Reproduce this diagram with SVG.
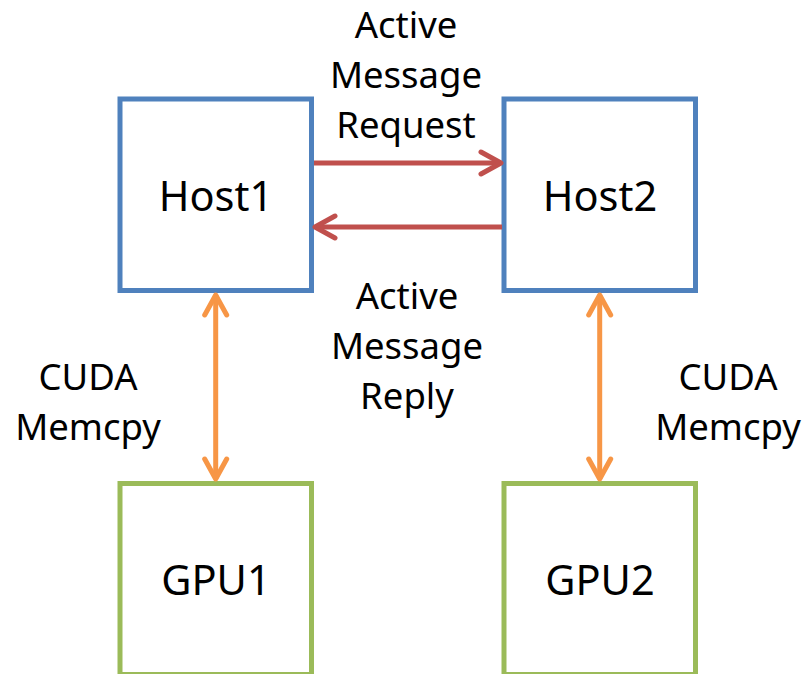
<svg xmlns="http://www.w3.org/2000/svg" width="806" height="674" viewBox="0 0 806 674">
  <defs>
    <style>
      .host { fill: #FFFFFF; stroke: #4F81BD; stroke-width: 5; }
      .gpu { fill: #FFFFFF; stroke: #9BBB59; stroke-width: 5; }
      .label { font-family: "Noto Sans", "Open Sans", sans-serif; fill: #000000; text-anchor: middle; }
      .node-label { font-size: 41.5px; }
      .edge-label { font-size: 36.5px; }
      .msg { fill: none; stroke: #C0504D; stroke-width: 5; }
      .copy { fill: none; stroke: #F79646; stroke-width: 5; }
    </style>
    <marker id="head-red" viewBox="-26 -14 30 28" markerWidth="30" markerHeight="28" refX="0" refY="0" markerUnits="userSpaceOnUse" orient="auto-start-reverse">
      <path d="M -20 -11 L 0 0 L -20 11" fill="none" stroke="#C0504D" stroke-width="5" stroke-linecap="round" stroke-linejoin="round"/>
    </marker>
    <marker id="head-orange" viewBox="-26 -14 30 28" markerWidth="30" markerHeight="28" refX="0" refY="0" markerUnits="userSpaceOnUse" orient="auto-start-reverse">
      <path d="M -20 -11 L 0 0 L -20 11" fill="none" stroke="#F79646" stroke-width="5" stroke-linecap="round" stroke-linejoin="round"/>
    </marker>
  </defs>

  <rect width="806" height="674" fill="#FFFFFF"/>

  <!-- nodes -->
  <g id="host1">
    <rect class="host" x="120" y="99" width="191.5" height="191.5"/>
    <text class="label node-label" x="216" y="211">Host1</text>
  </g>
  <g id="host2">
    <rect class="host" x="504" y="99" width="191.5" height="191.5"/>
    <text class="label node-label" x="600" y="211">Host2</text>
  </g>
  <g id="gpu1">
    <rect class="gpu" x="120" y="483.5" width="191.5" height="191"/>
    <text class="label node-label" x="216" y="595">GPU1</text>
  </g>
  <g id="gpu2">
    <rect class="gpu" x="504" y="483.5" width="191.5" height="191"/>
    <text class="label node-label" x="600" y="595">GPU2</text>
  </g>

  <!-- connectors -->
  <g id="connectors">
    <line class="msg" x1="314" y1="163" x2="501" y2="163" marker-end="url(#head-red)"/>
    <line class="msg" x1="502" y1="227" x2="315" y2="227" marker-end="url(#head-red)"/>
    <line class="copy" x1="215.7" y1="295" x2="215.7" y2="479" marker-start="url(#head-orange)" marker-end="url(#head-orange)"/>
    <line class="copy" x1="599.7" y1="295" x2="599.7" y2="479" marker-start="url(#head-orange)" marker-end="url(#head-orange)"/>
  </g>

  <!-- connector labels -->
  <g id="labels">
    <text class="label edge-label" x="406" y="38">Active</text>
    <text class="label edge-label" x="406" y="88">Message</text>
    <text class="label edge-label" x="406" y="138">Request</text>
    <text class="label edge-label" x="407" y="309">Active</text>
    <text class="label edge-label" x="407" y="359">Message</text>
    <text class="label edge-label" x="407" y="409">Reply</text>
    <text class="label edge-label" x="88" y="390">CUDA</text>
    <text class="label edge-label" x="88" y="440">Memcpy</text>
    <text class="label edge-label" x="728" y="390">CUDA</text>
    <text class="label edge-label" x="728" y="440">Memcpy</text>
  </g>
</svg>
